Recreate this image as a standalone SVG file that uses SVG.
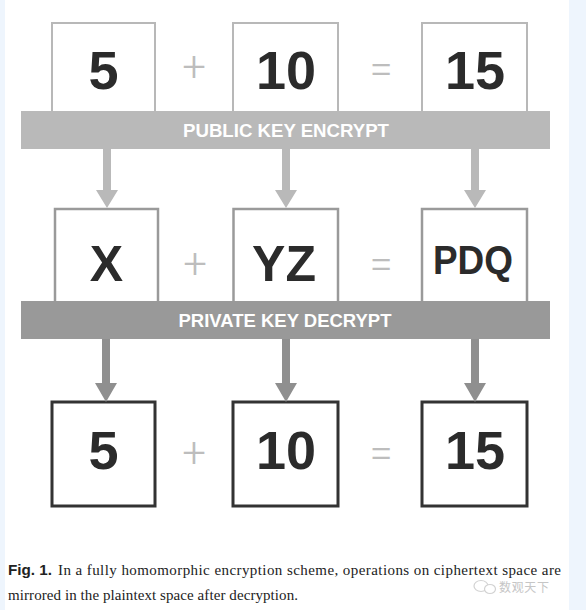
<svg xmlns="http://www.w3.org/2000/svg" width="586" height="610" viewBox="0 0 586 610">
<style>
.b1{fill:#fff;stroke:#b8b8b8;stroke-width:2}
.b2{fill:#fff;stroke:#9a9a9a;stroke-width:2.5}
.b3{fill:#fff;stroke:#333;stroke-width:3}
.num{font-family:"Liberation Sans",Arial,sans-serif;font-weight:bold;fill:#2b2b2b;text-anchor:middle}
.op{font-family:Roboto,"Liberation Sans",Arial,sans-serif;font-weight:300;font-size:42px;fill:#bdbdbd;text-anchor:middle}
.bar{font-family:"Liberation Sans",Arial,sans-serif;font-weight:bold;font-size:18px;fill:#fff;text-anchor:middle}
.a1{fill:#b9b9b9}
.a2{fill:#8f8f8f}
</style>
<rect width="586" height="610" fill="#fff"/>
<rect x="0" y="0" width="5" height="610" fill="#eef5fd"/>
<rect x="569" y="0" width="17" height="610" fill="#eef5fd"/>

<g id="row1">
<g id="p5"><rect class="b1" x="52" y="23" width="103" height="95"/><text class="num" x="103.5" y="89" font-size="54">5</text></g>
<text class="op" x="194" y="81">+</text>
<g id="p10"><rect class="b1" x="233" y="23" width="105" height="95"/><text class="num" x="286" y="89" font-size="54">10</text></g>
<text class="op" x="381" y="84">=</text>
<g id="p15"><rect class="b1" x="422" y="23" width="105" height="95"/><text class="num" x="475" y="89" font-size="54">15</text></g>
</g>

<g id="encrypt"><rect x="21" y="111" width="529" height="38" fill="#b9b9b9"/><text class="bar" x="286" y="137" textLength="206" lengthAdjust="spacingAndGlyphs">PUBLIC KEY ENCRYPT</text></g>

<g id="row2">
<g id="cX"><rect class="b2" x="55" y="209" width="103" height="98"/><text class="num" x="106.5" y="281" font-size="50">X</text></g>
<text class="op" x="195" y="278">+</text>
<g id="cYZ"><rect class="b2" x="233.5" y="209" width="104.5" height="98"/><text class="num" x="284" y="281" font-size="50">YZ</text></g>
<text class="op" x="381" y="279">=</text>
<g id="cPDQ"><rect class="b2" x="422" y="209" width="105" height="98"/><text class="num" x="473" y="274" font-size="40" textLength="80" lengthAdjust="spacingAndGlyphs">PDQ</text></g>
</g>

<g id="decrypt"><rect x="21" y="301" width="529" height="38" fill="#999"/><text class="bar" x="285" y="327" textLength="213" lengthAdjust="spacingAndGlyphs">PRIVATE KEY DECRYPT</text></g>

<g id="row3">
<g id="r5"><rect class="b3" x="52" y="402" width="103" height="104"/><text class="num" x="103.5" y="469" font-size="54">5</text></g>
<text class="op" x="194" y="467">+</text>
<g id="r10"><rect class="b3" x="233" y="402" width="105" height="104"/><text class="num" x="286" y="469" font-size="54">10</text></g>
<text class="op" x="381" y="468">=</text>
<g id="r15"><rect class="b3" x="422" y="402" width="105" height="104"/><text class="num" x="475" y="469" font-size="54">15</text></g>
</g>

<g id="connectors">
<path class="a1" d="M103,149h8v41h7l-11,18l-11,-18h7z"/>
<path class="a1" d="M282,149h8v41h7l-11,18l-11,-18h7z"/>
<path class="a1" d="M471,149h8v41h7l-11,18l-11,-18h7z"/>
<path class="a2" d="M102,339h8v44h7l-11,19l-11,-19h7z"/>
<path class="a2" d="M282,339h8v44h7l-11,19l-11,-19h7z"/>
<path class="a2" d="M471,339h8v44h7l-11,19l-11,-19h7z"/>
</g>

<g id="caption">
<text x="8" y="575" font-family="'Liberation Sans',Arial,sans-serif" font-weight="bold" font-size="15" fill="#222" textLength="44" lengthAdjust="spacingAndGlyphs">Fig. 1.</text>
<text x="58" y="575" font-family="'Liberation Serif','Times New Roman',serif" font-size="15" fill="#222" textLength="503" lengthAdjust="spacing">In a fully homomorphic encryption scheme, operations on ciphertext space are</text>
<text x="8" y="600" font-family="'Liberation Serif','Times New Roman',serif" font-size="15" fill="#222" textLength="290" lengthAdjust="spacing">mirrored in the plaintext space after decryption.</text>
</g>

<g id="watermark" opacity="0.8">
<ellipse cx="481" cy="586" rx="7" ry="5.5" fill="none" stroke="#c8c8c8" stroke-width="1.2"/>
<ellipse cx="490" cy="589" rx="5.5" ry="4.5" fill="#fff" stroke="#c8c8c8" stroke-width="1.2"/>
<text x="499" y="592" font-family="'Noto Sans CJK SC',sans-serif" font-size="12" fill="#b8b8b8" textLength="50">数观天下</text>
</g>
</svg>
